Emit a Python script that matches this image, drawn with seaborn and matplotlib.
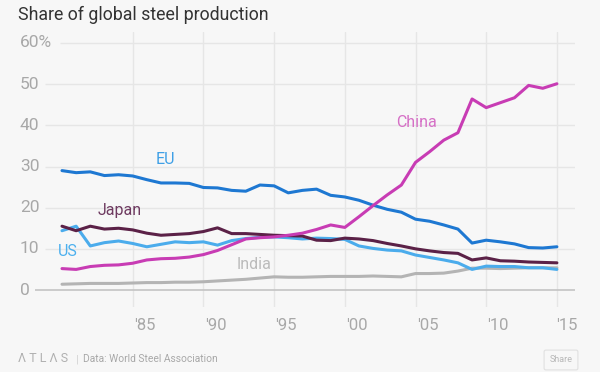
import numpy as np
import pandas as pd
import matplotlib.pyplot as plt
import matplotlib as mpl
import seaborn as sns

# share of global steel production, %
years = list(range(1980, 2016))

eu = [29.0, 28.5, 28.7, 27.8, 28.0, 27.7, 26.8, 26.0, 26.0, 25.9,
      24.9, 24.8, 24.2, 24.0, 25.5, 25.3, 23.6, 24.2, 24.5, 23.0,
      22.6, 21.8, 20.6, 19.6, 18.9, 17.2, 16.7, 15.8, 14.8, 11.4,
      12.1, 11.7, 11.2, 10.3, 10.2, 10.5]
china = [5.2, 5.0, 5.7, 6.0, 6.1, 6.5, 7.3, 7.6, 7.7, 8.0,
         8.6, 9.6, 11.0, 12.4, 12.7, 12.9, 13.3, 13.8, 14.7, 15.8,
         15.2, 17.8, 20.5, 23.1, 25.5, 31.0, 33.6, 36.4, 38.2, 46.4,
         44.3, 45.5, 46.7, 49.7, 49.0, 50.1]
japan = [15.5, 14.4, 15.5, 14.8, 15.0, 14.6, 13.8, 13.3, 13.5, 13.7,
         14.2, 15.1, 13.7, 13.7, 13.5, 13.3, 13.2, 13.1, 12.1, 12.0,
         12.6, 12.4, 12.0, 11.3, 10.7, 10.0, 9.5, 9.1, 8.9, 7.3,
         7.8, 7.1, 7.0, 6.8, 6.7, 6.6]
us = [14.4, 15.5, 10.7, 11.5, 11.9, 11.3, 10.5, 11.1, 11.7, 11.5,
      11.7, 10.9, 12.0, 12.5, 12.8, 12.9, 12.7, 12.4, 12.6, 12.5,
      12.3, 10.7, 10.1, 9.7, 9.5, 8.5, 7.9, 7.3, 6.6, 5.0,
      5.8, 5.7, 5.7, 5.4, 5.4, 5.0]
india = [1.4, 1.5, 1.6, 1.6, 1.6, 1.7, 1.8, 1.8, 1.9, 1.9,
         2.0, 2.2, 2.4, 2.6, 2.9, 3.2, 3.1, 3.1, 3.2, 3.3,
         3.3, 3.3, 3.4, 3.3, 3.2, 4.0, 4.0, 4.1, 4.6, 5.3,
         5.3, 5.2, 5.3, 5.4, 5.4, 5.4]

series = ['India', 'US', 'Japan', 'EU', 'China']
lineColors = {'EU': '#1e78d2', 'US': '#4bacec', 'China': '#c83cb4',
              'Japan': '#5b2147', 'India': '#b4b4b4'}
labelColors = {'EU': '#3fa0e6', 'US': '#4cb0ee', 'China': '#d670c6',
               'Japan': '#6e3a60', 'India': '#bbbbbb'}
# where the series names sit (year, value)
labelPos = {'EU': (1987.3, 31.6), 'Japan': (1984.1, 19.3), 'US': (1980.4, 9.3),
            'India': (1993.6, 6.1), 'China': (2005.1, 40.7)}

yTicks = [0, 10, 20, 30, 40, 50, 60]
yTickLabels = ['0', '10', '20', '30', '40', '50', '60%']
xTicks = [1985, 1990, 1995, 2000, 2005, 2010, 2015]
xTickLabels = ["'85", "'90", "'95", "'00", "'05", "'10", "'15"]

values = {'EU': eu, 'China': china, 'Japan': japan, 'US': us, 'India': india}
df = pd.concat([pd.DataFrame({'year': years, 'share': values[s], 'region': s})
                for s in series], ignore_index=True)

sns.set_style('white')
plt.rcParams['font.family'] = ['Roboto', 'DejaVu Sans']

bg = '#f7f7f7'
W, H = 600, 372
fig = plt.figure(figsize=(6.0, 3.72), dpi=100, facecolor=bg)

# axes box in pixels: x 35..575, y 32..307
axL, axW = 35, 540
ax = fig.add_axes([axL / W, 1 - 307 / H, axW / W, 275 / H])
ax.set_facecolor(bg)
pxYear = 14.14  # pixels per year
x0 = 1980 - 27 / pxYear
x1 = 1980 + 513 / pxYear
ax.set_xlim(x0, x1)
ax.set_ylim(-17 / 4.117, 60 + 11 / 4.117)
for sp in ax.spines.values():
    sp.set_visible(False)
ax.set_xticks([])
ax.set_yticks([])

# grid
gridColor = '#e6e6e6'
for yr in xTicks:
    ax.axvline(yr, color=gridColor, lw=1, zorder=0)
for v in yTicks[1:]:
    start = x0 + (25 if v == 60 else 10) / pxYear
    ax.hlines(v, start, x1, color=gridColor, lw=1, zorder=0)
ax.hlines(0, x0, x1, color='#c4c4c4', lw=1.2, zorder=1)

sns.lineplot(data=df, x='year', y='share', hue='region', hue_order=series,
             palette=lineColors, linewidth=2.2, legend=False, ax=ax, zorder=3)
ax.set_xlabel('')
ax.set_ylabel('')

# tick labels
tickColor = '#a8a8a8'
for v, lab in zip(yTicks, yTickLabels):
    ax.text((20 - axL) / axW, v, lab, transform=ax.get_yaxis_transform(),
            ha='left', va='center', fontsize=12.5, color=tickColor, clip_on=False)

for i, (yr, lab) in enumerate(zip(xTicks, xTickLabels)):
    last = i == len(xTicks) - 1
    ax.text(yr + (1.45 if last else 0.1), -8.6, lab, ha='right' if last else 'left',
            va='center', fontsize=12, color=tickColor, clip_on=False)

for s in series:
    lx, ly = labelPos[s]
    ax.text(lx, ly, s, ha='center', va='center', fontsize=11.5, color=labelColors[s])

fig.text(18 / W, 1 - 15 / H, 'Share of global steel production', ha='left', va='center',
         fontsize=12.8, color='#333333')

fig.text(18 / W, 1 - 359 / H, 'Λ T L Λ S', ha='left', va='center', fontsize=9,
         color='#b0b0b0')
fig.text(76 / W, 1 - 359 / H, '|', ha='left', va='center', fontsize=8, color='#d0d0d0')
fig.text(83 / W, 1 - 359 / H, 'Data: World Steel Association', ha='left', va='center',
         fontsize=7.4, color='#a8a8a8')
fig.text(561 / W, 1 - 360 / H, 'Share', ha='center', va='center', fontsize=6.5,
         color='#b8b8b8',
         bbox=dict(boxstyle='round,pad=0.6,rounding_size=0.2', fc=bg, ec='#e0e0e0', lw=0.8))

fig.savefig('out.png', dpi=100, facecolor=bg)
